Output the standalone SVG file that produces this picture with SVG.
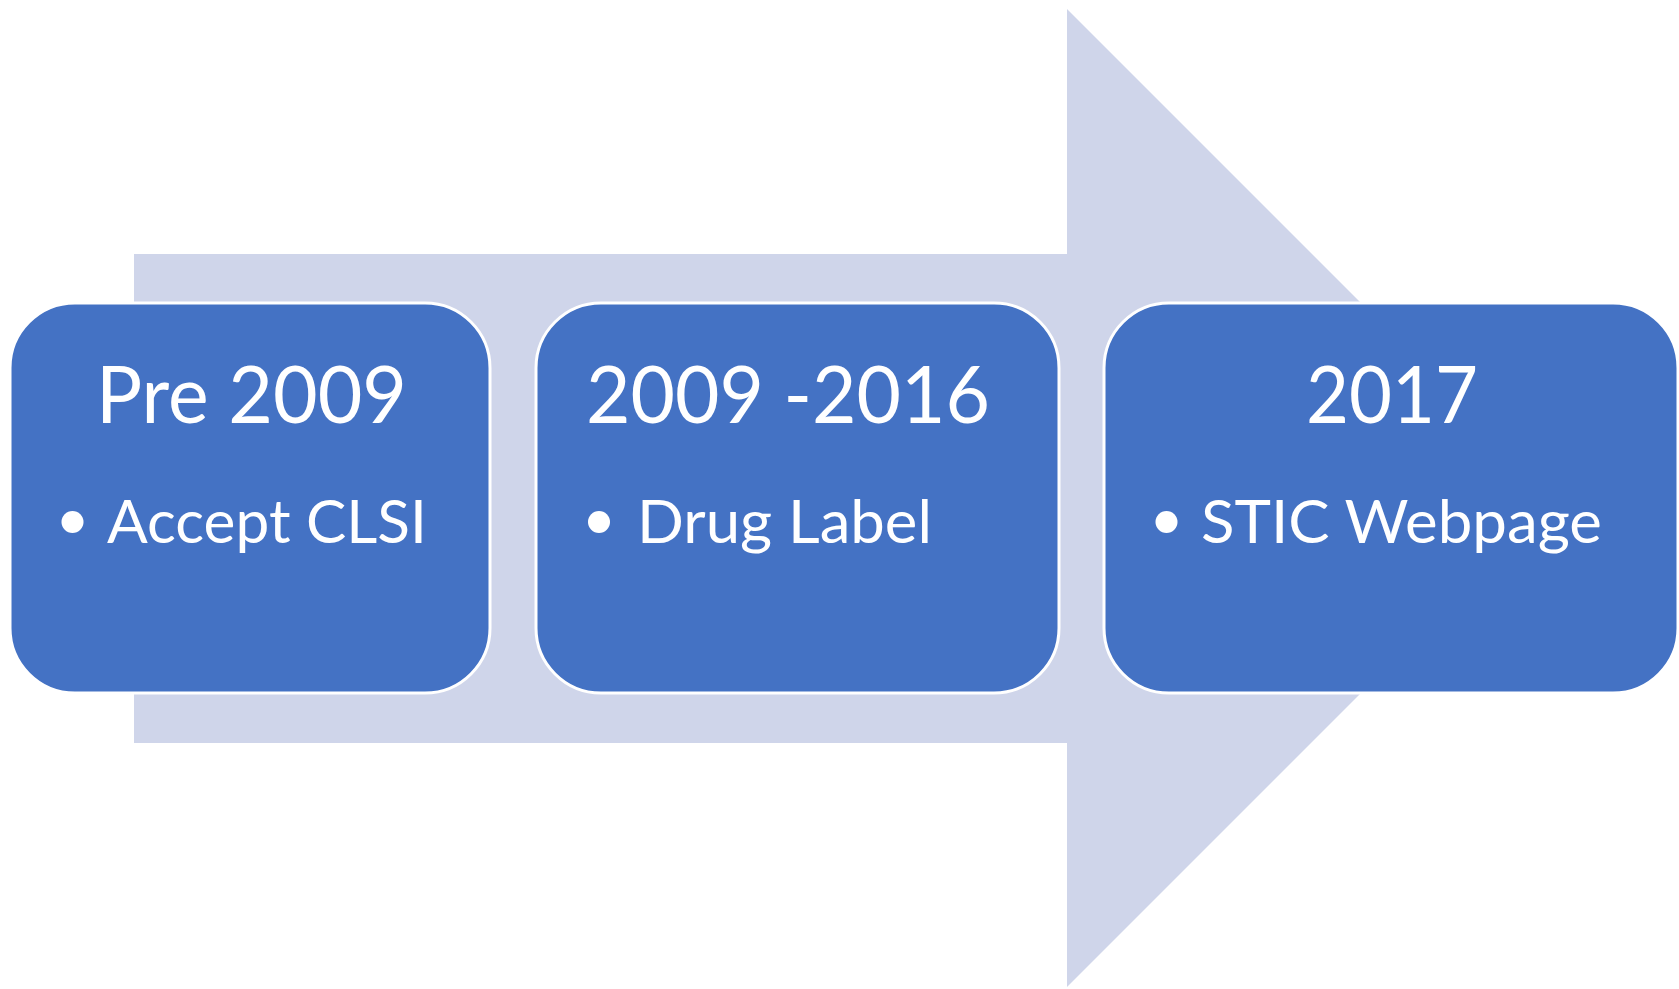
<svg xmlns="http://www.w3.org/2000/svg" width="1679" height="989" viewBox="0 0 1679 989">
  <style>
    .node { fill: #4472C4; stroke: #FFFFFF; stroke-width: 3; }
    .title { font-family: Lato, "Open Sans", "Liberation Sans", sans-serif; font-size: 80px; fill: #FFFFFF; }
    .item { font-family: Lato, "Open Sans", "Liberation Sans", sans-serif; font-size: 60px; fill: #FFFFFF; }
    .dot { fill: #FFFFFF; }
  </style>
  <rect width="1679" height="989" fill="#FFFFFF"/>
  <g id="connectors">
    <polygon points="134,254 1067,254 1067,9 1556,498 1067,987 1067,743 134,743" fill="#CFD5EA"/>
  </g>
  <g id="node-pre2009">
    <rect class="node" x="10" y="303" width="480" height="390" rx="65" ry="65"/>
    <text class="title" x="96" y="423" textLength="311" lengthAdjust="spacingAndGlyphs">Pre 2009</text>
    <circle class="dot" cx="72.5" cy="522" r="11"/>
    <text class="item" x="107" y="543" textLength="320" lengthAdjust="spacingAndGlyphs">Accept CLSI</text>
  </g>
  <g id="node-2009-2016">
    <rect class="node" x="536" y="303" width="523" height="390" rx="65" ry="65"/>
    <text class="title" x="586" y="423" textLength="404" lengthAdjust="spacingAndGlyphs">2009 -2016</text>
    <circle class="dot" cx="599" cy="522" r="11"/>
    <text class="item" x="637" y="543" textLength="295" lengthAdjust="spacingAndGlyphs">Drug Label</text>
  </g>
  <g id="node-2017">
    <rect class="node" x="1104" y="303" width="574" height="390" rx="65" ry="65"/>
    <text class="title" x="1306" y="423" textLength="172" lengthAdjust="spacingAndGlyphs">2017</text>
    <circle class="dot" cx="1166.5" cy="522" r="11"/>
    <text class="item" x="1201" y="543" textLength="401" lengthAdjust="spacingAndGlyphs">STIC Webpage</text>
  </g>
</svg>
